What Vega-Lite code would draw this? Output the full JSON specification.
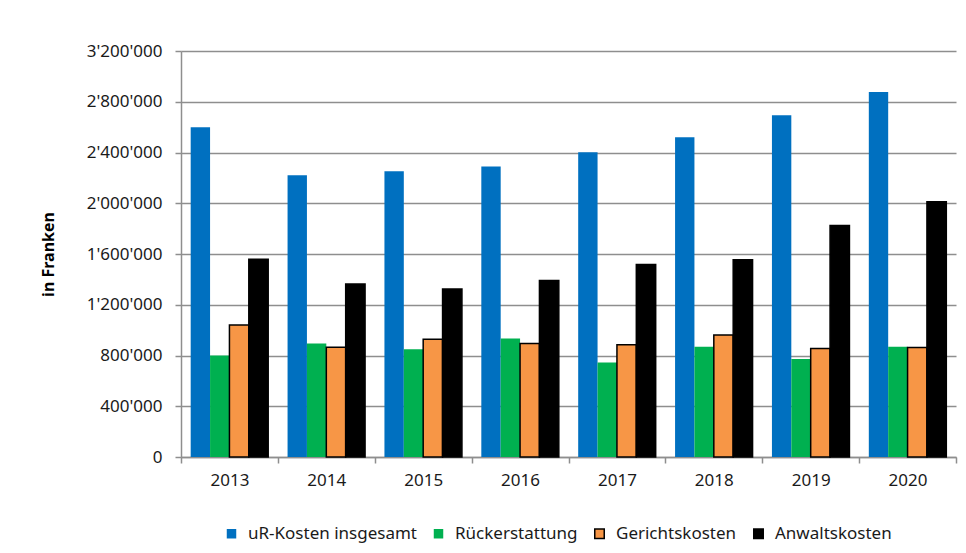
{
  "$schema": "https://vega.github.io/schema/vega-lite/v6.json",
  "autosize": {"type": "none"},
  "padding": {"left": 181, "top": 51, "right": 10, "bottom": 96},
  "width": 775,
  "height": 406,
  "background": "white",
  "config": {
    "view": {"stroke": null},
    "font": "Noto Sans",
    "axis": {"labelFont": "Noto Sans", "titleFont": "Noto Sans"},
    "legend": {"labelFont": "Noto Sans"}
  },
  "data": {
    "values": [
      {"Jahr": "2013", "Kategorie": "uR-Kosten insgesamt", "Betrag": 2600000},
      {"Jahr": "2013", "Kategorie": "Rückerstattung", "Betrag": 800000},
      {"Jahr": "2013", "Kategorie": "Gerichtskosten", "Betrag": 1040000},
      {"Jahr": "2013", "Kategorie": "Anwaltskosten", "Betrag": 1558000},
      {"Jahr": "2014", "Kategorie": "uR-Kosten insgesamt", "Betrag": 2221000},
      {"Jahr": "2014", "Kategorie": "Rückerstattung", "Betrag": 895000},
      {"Jahr": "2014", "Kategorie": "Gerichtskosten", "Betrag": 866000},
      {"Jahr": "2014", "Kategorie": "Anwaltskosten", "Betrag": 1363000},
      {"Jahr": "2015", "Kategorie": "uR-Kosten insgesamt", "Betrag": 2253000},
      {"Jahr": "2015", "Kategorie": "Rückerstattung", "Betrag": 850000},
      {"Jahr": "2015", "Kategorie": "Gerichtskosten", "Betrag": 929000},
      {"Jahr": "2015", "Kategorie": "Anwaltskosten", "Betrag": 1324000},
      {"Jahr": "2016", "Kategorie": "uR-Kosten insgesamt", "Betrag": 2289000},
      {"Jahr": "2016", "Kategorie": "Rückerstattung", "Betrag": 934000},
      {"Jahr": "2016", "Kategorie": "Gerichtskosten", "Betrag": 895000},
      {"Jahr": "2016", "Kategorie": "Anwaltskosten", "Betrag": 1392000},
      {"Jahr": "2017", "Kategorie": "uR-Kosten insgesamt", "Betrag": 2401000},
      {"Jahr": "2017", "Kategorie": "Rückerstattung", "Betrag": 745000},
      {"Jahr": "2017", "Kategorie": "Gerichtskosten", "Betrag": 885000},
      {"Jahr": "2017", "Kategorie": "Anwaltskosten", "Betrag": 1517000},
      {"Jahr": "2018", "Kategorie": "uR-Kosten insgesamt", "Betrag": 2520000},
      {"Jahr": "2018", "Kategorie": "Rückerstattung", "Betrag": 869000},
      {"Jahr": "2018", "Kategorie": "Gerichtskosten", "Betrag": 961000},
      {"Jahr": "2018", "Kategorie": "Anwaltskosten", "Betrag": 1554000},
      {"Jahr": "2019", "Kategorie": "uR-Kosten insgesamt", "Betrag": 2694000},
      {"Jahr": "2019", "Kategorie": "Rückerstattung", "Betrag": 772000},
      {"Jahr": "2019", "Kategorie": "Gerichtskosten", "Betrag": 856000},
      {"Jahr": "2019", "Kategorie": "Anwaltskosten", "Betrag": 1825000},
      {"Jahr": "2020", "Kategorie": "uR-Kosten insgesamt", "Betrag": 2876000},
      {"Jahr": "2020", "Kategorie": "Rückerstattung", "Betrag": 869000},
      {"Jahr": "2020", "Kategorie": "Gerichtskosten", "Betrag": 864000},
      {"Jahr": "2020", "Kategorie": "Anwaltskosten", "Betrag": 2012000}
    ]
  },
  "mark": {"type": "bar", "strokeWidth": 1.5},
  "encoding": {
    "x": {
      "field": "Jahr",
      "type": "nominal",
      "scale": {"paddingInner": 0, "paddingOuter": 0},
      "axis": {
        "title": null,
        "labelAngle": 0,
        "labelFontSize": 17,
        "labelColor": "#1a1a1a",
        "labelPadding": 9,
        "tickBand": "extent",
        "tickSize": 6,
        "tickColor": "#8e8e8e",
        "tickWidth": 1.5,
        "domainColor": "#8e8e8e",
        "domainWidth": 1.5,
        "grid": false
      }
    },
    "xOffset": {
      "field": "Kategorie",
      "type": "nominal",
      "sort": ["uR-Kosten insgesamt", "Rückerstattung", "Gerichtskosten", "Anwaltskosten"],
      "scale": {"paddingInner": 0, "paddingOuter": 0.5}
    },
    "y": {
      "field": "Betrag",
      "type": "quantitative",
      "scale": {"domain": [0, 3200000], "nice": false},
      "axis": {
        "title": "in Franken",
        "titleFontSize": 16,
        "titleFontWeight": "bold",
        "titleColor": "#000000",
        "titleAngle": -90,
        "titleX": -133,
        "titleY": 203,
        "titleAlign": "center",
        "titleBaseline": "middle",
        "values": [0, 400000, 800000, 1200000, 1600000, 2000000, 2400000, 2800000, 3200000],
        "labelExpr": "replace(format(datum.value, ',d'), /,/g, \"'\")",
        "labelFontSize": 17,
        "labelColor": "#1a1a1a",
        "labelPadding": 13,
        "tickSize": 6,
        "tickColor": "#8e8e8e",
        "tickWidth": 1.5,
        "domainColor": "#8e8e8e",
        "domainWidth": 1.5,
        "grid": true,
        "gridColor": "#8e8e8e",
        "gridWidth": 1.5
      }
    },
    "color": {
      "field": "Kategorie",
      "type": "nominal",
      "sort": ["uR-Kosten insgesamt", "Rückerstattung", "Gerichtskosten", "Anwaltskosten"],
      "scale": {
        "domain": ["uR-Kosten insgesamt", "Rückerstattung", "Gerichtskosten", "Anwaltskosten"],
        "range": ["#0070C0", "#00B050", "#F79646", "#000000"]
      },
      "legend": {
        "title": null,
        "orient": "none",
        "direction": "horizontal",
        "legendX": 42,
        "legendY": 474,
        "symbolType": "square",
        "symbolSize": 90,
        "symbolStrokeWidth": 1.5,
        "labelFontSize": 17,
        "labelColor": "#1a1a1a",
        "labelLimit": 400,
        "labelOffset": 8,
        "columnPadding": 13
      }
    },
    "stroke": {
      "field": "Kategorie",
      "type": "nominal",
      "sort": ["uR-Kosten insgesamt", "Rückerstattung", "Gerichtskosten", "Anwaltskosten"],
      "scale": {
        "domain": ["uR-Kosten insgesamt", "Rückerstattung", "Gerichtskosten", "Anwaltskosten"],
        "range": ["transparent", "transparent", "#000000", "#000000"]
      },
      "legend": {
        "title": null,
        "orient": "none",
        "direction": "horizontal",
        "legendX": 42,
        "legendY": 474,
        "symbolType": "square",
        "symbolSize": 90,
        "symbolStrokeWidth": 1.5,
        "labelFontSize": 17,
        "labelColor": "#1a1a1a",
        "labelLimit": 400,
        "labelOffset": 8,
        "columnPadding": 13
      }
    }
  }
}
